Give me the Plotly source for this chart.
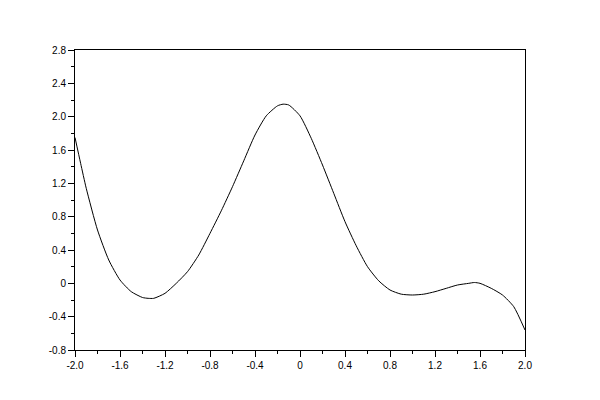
"""Courbe polynomiale, style Scilab."""

import plotly.graph_objects as go

# Données
x_vals = [-2.0, -1.95, -1.9, -1.8, -1.7, -1.6, -1.5, -1.4, -1.35, -1.3, -1.2, -1.1,
          -1.0, -0.9, -0.8, -0.7, -0.6, -0.5, -0.4, -0.3, -0.2, -0.15, -0.1, 0.0,
          0.1, 0.2, 0.3, 0.4, 0.5, 0.6, 0.7, 0.8, 0.9, 1.0, 1.1, 1.2, 1.3,
          1.4, 1.5, 1.55, 1.6, 1.7, 1.8, 1.9, 2.0]
y_vals = [1.75, 1.44, 1.14, 0.64, 0.28, 0.04, -0.10, -0.17, -0.18, -0.18, -0.12, 0.0,
          0.14, 0.34, 0.60, 0.87, 1.16, 1.47, 1.78, 2.01, 2.13, 2.15, 2.14, 2.01,
          1.74, 1.42, 1.08, 0.74, 0.45, 0.20, 0.03, -0.08, -0.13, -0.14, -0.13,
          -0.10, -0.06, -0.02, 0.0, 0.01, 0.0, -0.06, -0.14, -0.28, -0.56]

x_ticks = [-2.0, -1.6, -1.2, -0.8, -0.4, 0.0, 0.4, 0.8, 1.2, 1.6, 2.0]
x_labels = ["-2.0", "-1.6", "-1.2", "-0.8", "-0.4", "0", "0.4", "0.8", "1.2", "1.6", "2.0"]
y_ticks = [-0.8, -0.4, 0.0, 0.4, 0.8, 1.2, 1.6, 2.0, 2.4, 2.8]
y_labels = ["-0.8", "-0.4", "0", "0.4", "0.8", "1.2", "1.6", "2.0", "2.4", "2.8"]

fig = go.Figure(
    go.Scatter(
        x=x_vals,
        y=y_vals,
        mode="lines",
        line=dict(color="black", width=1, shape="spline", smoothing=0.6),
        hoverinfo="skip",
    )
)

axis_style = dict(
    showline=True,
    linecolor="black",
    linewidth=1,
    mirror=True,
    showgrid=False,
    zeroline=False,
    ticks="outside",
    ticklen=6,
    tickwidth=1,
    tickcolor="black",
    tickmode="array",
    tickfont=dict(family="Liberation Sans, Arial, sans-serif", size=10, color="black"),
)

# la page ajoute une marge de 8 px autour du graphique
fig.update_layout(
    width=600,
    height=400,
    margin=dict(l=67, r=83, t=42, b=58),
    paper_bgcolor="white",
    plot_bgcolor="white",
    showlegend=False,
    xaxis=dict(
        axis_style,
        range=[-2.0, 2.0],
        tickvals=x_ticks,
        ticktext=x_labels,
        minor=dict(tickmode="linear", tick0=-2.0, dtick=0.2, ticks="outside",
                   ticklen=3, tickcolor="black", tickwidth=1, showgrid=False),
    ),
    yaxis=dict(
        axis_style,
        range=[-0.8, 2.8],
        tickvals=y_ticks,
        ticktext=y_labels,
        minor=dict(tickmode="linear", tick0=-0.8, dtick=0.2, ticks="outside",
                   ticklen=3, tickcolor="black", tickwidth=1, showgrid=False),
    ),
)

fig.write_html("out.html")
